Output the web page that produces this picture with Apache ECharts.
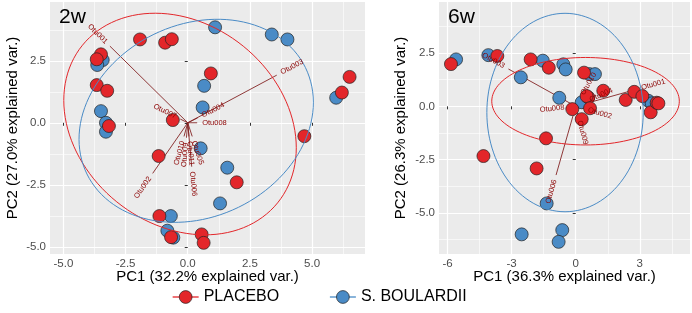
<!DOCTYPE html>
<html>
<head>
<meta charset="utf-8">
<script src="https://cdn.jsdelivr.net/npm/echarts@6/dist/echarts.min.js"></script>
<style>
html, body { margin: 0; padding: 0; background: #fff; }
#chart { width: 692px; height: 313px; }
</style>
</head>
<body>
<div id="chart"></div>
<script>
// PCA scores, 2 weeks
const placebo2w = [
    [-1.92, 3.36], [-0.91, 3.23], [-0.64, 3.37], [-3.49, 2.76], [-3.66, 2.56],
    [0.93, 1.99], [-3.66, 1.52], [-3.24, 1.29], [-3.17, -0.13], [-0.60, 0.11],
    [4.69, -0.54], [-1.17, -1.34], [1.97, -2.40], [-1.14, -3.76], [-0.67, -4.61],
    [0.56, -4.50], [0.64, -4.84], [6.51, 1.85], [6.20, 1.22]
];
const boulardii2w = [
    [1.10, 3.85], [3.38, 3.56], [4.01, 3.36], [-3.42, 2.53], [-3.64, 2.33],
    [0.66, 1.49], [0.60, 0.62], [-3.49, 0.47], [-3.29, 0.0], [-3.29, -0.36],
    [0.52, -1.03], [1.59, -1.81], [1.30, -3.25], [-0.68, -3.76], [-0.82, -4.35],
    [-0.58, -4.63], [5.97, 1.01]
];
// PCA scores, 6 weeks
const placebo6w = [
    [-5.84, 1.98], [-3.67, 2.36], [-2.11, 2.20], [-1.26, 1.81], [0.39, 1.58],
    [1.29, 0.73], [0.59, 0.42], [0.51, 0.48], [-0.16, -0.13], [0.67, -0.09],
    [0.28, -0.60], [-1.39, -1.50], [-4.32, -2.33], [-1.83, -2.91], [2.34, 0.30],
    [2.74, 0.68], [3.12, 0.48], [3.51, -0.28], [3.79, 0.17], [3.87, 0.14]
];
const boulardii6w = [
    [-5.60, 2.20], [-4.09, 2.40], [-1.54, 2.14], [-0.58, 1.97], [-0.47, 1.73],
    [0.64, 1.51], [0.90, 1.51], [-2.57, 1.36], [-0.77, 0.40], [0.28, 0.19],
    [3.40, 0.26], [3.56, 0.14], [-1.36, -4.55], [-2.53, -6.00], [-0.63, -5.80],
    [-0.80, -6.35]
];

// variable loadings [name, x, y]
const loadings2w = [
    ['Otu001', -3.13, 3.09], ['Otu003', 3.58, 1.92], ['Otu002', -1.41, -2.04],
    ['Otu004', 0.40, 0.20], ['Otu008', 0.38, 0.0], ['Otu007', -0.30, 0.15],
    ['Otu010', -0.15, -0.55], ['Otu009', -0.05, -0.60], ['Otu011', 0.05, -0.55],
    ['Otu005', 0.18, -0.55], ['Otu006', 0.16, -1.77]
];
const loadings6w = [
    ['Otu001', 2.85, 0.80], ['Otu003', -3.15, 1.75], ['Otu006', -0.92, -3.22],
    ['Otu008', -0.30, -0.03], ['Otu009', 0.12, -0.45], ['Otu002', 0.35, -0.10],
    ['Otu010', 0.20, 0.35], ['Otu004', 0.45, 0.20]
];

// normal-data ellipses [cx, cy, semi-axis a, semi-axis b, angle deg]
const ellipsePlacebo2w = [-0.31, -0.05, 5.05, 4.04, -39];
const ellipseBoulardii2w = [0.34, 0.08, 4.89, 3.88, 26];
const ellipsePlacebo6w = [0.46, 0.24, 4.39, 2.05, 0];
const ellipseBoulardii6w = [-0.50, -0.29, 3.66, 4.65, 0];

// axis ticks
const ticks2wX = [-5, -2.5, 0, 2.5, 5];
const ticks2wY = [-5, -2.5, 0, 2.5];
const ticks6wX = [-6, -3, 0, 3];
const ticks6wY = [-5, -2.5, 0, 2.5];
const minor2wX = [-3.75, -1.25, 1.25, 3.75, 6.25];
const minor2wY = [-3.75, -1.25, 1.25, 3.75];
const minor6wX = [-4.5, -1.5, 1.5, 4.5];
const minor6wY = [-6.25, -3.75, -1.25, 1.25, 3.75];

const RED = '#E3262A';
const BLUE = '#4A8BC6';
const ARROW = '#832424';
const LABEL = '#8B0000';
const FONT = 'Liberation Sans';

const chart = echarts.init(document.getElementById('chart'));

function ellipsePath(p) {
    const [cx, cy, a, b, deg] = p;
    const t = deg * Math.PI / 180;
    const pts = [];
    for (let i = 0; i <= 120; i++) {
        const u = i / 120 * 2 * Math.PI;
        const ex = a * Math.cos(u), ey = b * Math.sin(u);
        pts.push([cx + ex * Math.cos(t) - ey * Math.sin(t), cy + ex * Math.sin(t) + ey * Math.cos(t)]);
    }
    return pts;
}

function majorAxis(gridIndex, min, max, ticks, digits, name, gap) {
    return {
        type: 'value', gridIndex, min, max,
        name, nameLocation: 'middle', nameGap: gap, nameMoveOverlap: false,
        nameTextStyle: { color: '#000', fontSize: 15, fontFamily: FONT },
        axisLine: { show: false },
        axisTick: { show: true, length: 3, customValues: ticks, lineStyle: { color: '#333', width: 1 } },
        axisLabel: {
            customValues: ticks, color: '#4d4d4d', fontSize: 11.5, fontFamily: FONT, margin: 4,
            formatter: v => Number(v).toFixed(digits)
        },
        splitLine: { show: true, lineStyle: { color: '#fff', width: 1.2 } }
    };
}

function minorAxis(gridIndex, min, max, ticks) {
    return {
        type: 'value', gridIndex, min, max,
        axisLine: { show: false },
        axisTick: { show: false, customValues: ticks },
        axisLabel: { show: false, customValues: ticks },
        splitLine: { show: true, lineStyle: { color: '#fff', width: 0.6 } }
    };
}

function ellipseSeries(name, color, params, idx) {
    return {
        type: 'line', name, xAxisIndex: idx, yAxisIndex: idx,
        data: ellipsePath(params),
        showSymbol: false, symbol: 'circle', symbolSize: 13,
        lineStyle: { color, width: 1 },
        itemStyle: { color, borderColor: '#222', borderWidth: 0.7 },
        z: 4, silent: true, animation: false
    };
}

function pointSeries(name, color, data, idx) {
    return {
        type: 'scatter', name, xAxisIndex: idx, yAxisIndex: idx,
        data, symbolSize: 13,
        itemStyle: { color, borderColor: '#222', borderWidth: 0.7, opacity: 1 },
        z: 3, silent: true, animation: false
    };
}

function arrowSeries(loadings, idx) {
    return {
        type: 'custom', xAxisIndex: idx, yAxisIndex: idx,
        data: loadings.map(d => [d[1], d[2]]),
        z: 2, silent: true, animation: false,
        renderItem(params, api) {
            const p0 = api.coord([0, 0]);
            const p1 = api.coord([api.value(0), api.value(1)]);
            return {
                type: 'line',
                shape: { x1: p0[0], y1: p0[1], x2: p1[0], y2: p1[1] },
                style: { stroke: ARROW, lineWidth: 0.9 }
            };
        }
    };
}

function labelSeries(loadings, idx) {
    return {
        type: 'custom', xAxisIndex: idx, yAxisIndex: idx,
        data: loadings.map(d => [d[1], d[2]]),
        z: 6, silent: true, animation: false,
        renderItem(params, api) {
            const d = loadings[params.dataIndex];
            const p = api.coord([d[1], d[2]]);
            const right = d[1] >= 0;
            return {
                type: 'text', x: p[0], y: p[1],
                rotation: Math.atan(d[2] / d[1]),
                style: {
                    text: d[0], x: right ? 5 : -5, y: 0,
                    align: right ? 'left' : 'right', verticalAlign: 'middle',
                    fill: LABEL, fontSize: 7.5, fontFamily: FONT
                }
            };
        }
    };
}

const option = {
    animation: false,
    textStyle: { fontFamily: FONT },
    title: [
        { text: '2w', left: 54, top: 2, textStyle: { fontSize: 21, fontWeight: 'normal', color: '#000', fontFamily: FONT } },
        { text: '6w', left: 443, top: 2, textStyle: { fontSize: 21, fontWeight: 'normal', color: '#000', fontFamily: FONT } }
    ],
    legend: {
        bottom: 3, left: 167,
        data: ['PLACEBO', 'S. BOULARDII'],
        itemWidth: 26, itemHeight: 16, itemGap: 50,
        lineStyle: { width: 1.3 },
        textStyle: { fontSize: 16, color: '#000', fontFamily: FONT },
        itemStyle: { borderColor: '#222', borderWidth: 0.7 }
    },
    grid: [
        { left: 50, top: 2, width: 315, height: 252, show: true, backgroundColor: '#EBEBEB', borderWidth: 0 },
        { left: 439, top: 2, width: 251, height: 252, show: true, backgroundColor: '#EBEBEB', borderWidth: 0 }
    ],
    xAxis: [
        majorAxis(0, -5.54, 7.13, ticks2wX, 1, 'PC1 (32.2% explained var.)', 15),
        majorAxis(1, -6.40, 5.35, ticks6wX, 0, 'PC1 (36.3% explained var.)', 15),
        minorAxis(0, -5.54, 7.13, minor2wX),
        minorAxis(1, -6.40, 5.35, minor6wX)
    ],
    yAxis: [
        majorAxis(0, -5.29, 4.87, ticks2wY, 1, 'PC2 (27.0% explained var.)', 30),
        majorAxis(1, -6.92, 4.89, ticks6wY, 1, 'PC2 (26.3% explained var.)', 31),
        minorAxis(0, -5.29, 4.87, minor2wY),
        minorAxis(1, -6.92, 4.89, minor6wY)
    ],
    series: [
        ellipseSeries('PLACEBO', RED, ellipsePlacebo2w, 0),
        ellipseSeries('S. BOULARDII', BLUE, ellipseBoulardii2w, 0),
        ellipseSeries('PLACEBO', RED, ellipsePlacebo6w, 1),
        ellipseSeries('S. BOULARDII', BLUE, ellipseBoulardii6w, 1),
        arrowSeries(loadings2w, 0),
        arrowSeries(loadings6w, 1),
        pointSeries('S. BOULARDII', BLUE, boulardii2w, 0),
        pointSeries('PLACEBO', RED, placebo2w, 0),
        pointSeries('S. BOULARDII', BLUE, boulardii6w, 1),
        pointSeries('PLACEBO', RED, placebo6w, 1),
        labelSeries(loadings2w, 0),
        labelSeries(loadings6w, 1)
    ]
};

chart.setOption(option);
</script>
</body>
</html>
